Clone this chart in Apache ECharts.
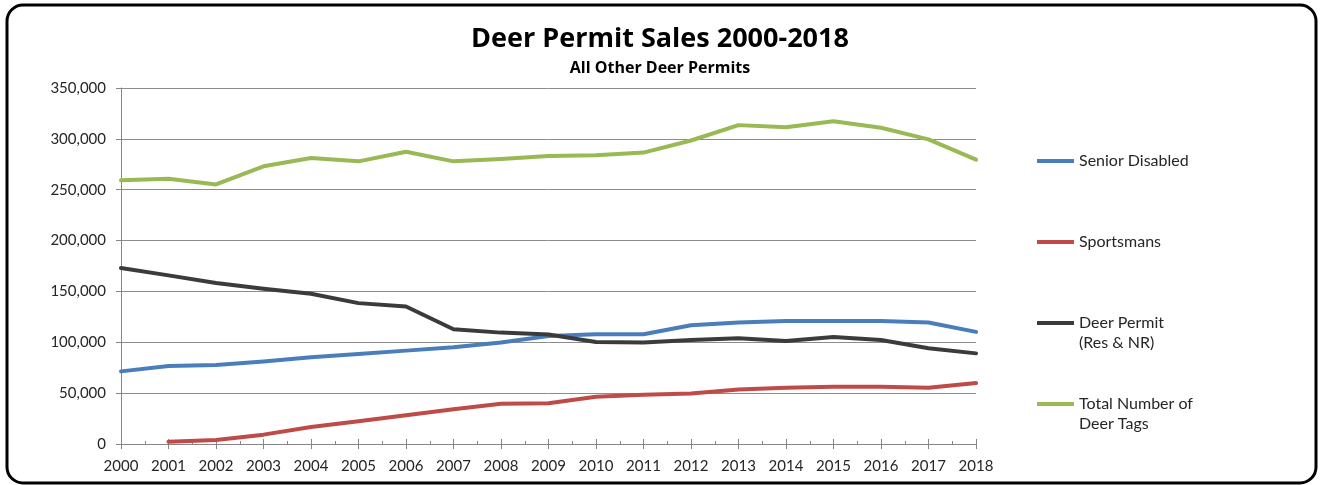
<!DOCTYPE html>
<html>
<head>
<meta charset="utf-8">
<script src="https://cdn.jsdelivr.net/npm/echarts@6/dist/echarts.min.js"></script>
<style>
  html, body { margin: 0; padding: 0; background: #fff; }
  #chart { width: 1320px; height: 485px; }
</style>
</head>
<body>
<div id="chart"></div>
<script>
// Permit sales per year
const years = [2000, 2001, 2002, 2003, 2004, 2005, 2006, 2007, 2008, 2009,
               2010, 2011, 2012, 2013, 2014, 2015, 2016, 2017, 2018];
const seniorDisabled = [71400, 76600, 77600, 81200, 85200, 88500, 91800, 95100, 99700, 106200,
                        107900, 107900, 116800, 119400, 121000, 121000, 121000, 119400, 110200];
const sportsmans = [null, 2300, 3900, 9200, 16800, 22400, 28300, 34200, 39500, 40100,
                    46400, 48400, 49700, 53600, 55300, 56200, 56200, 55300, 59900];
const deerPermit = [173000, 165800, 158200, 152600, 147700, 138500, 135200, 112800, 109500, 107600,
                    100300, 99700, 102300, 103900, 101300, 105300, 102300, 94100, 89100];
const totalTags = [259200, 260800, 255200, 273000, 281200, 277900, 287400, 277900, 280200, 283200,
                   283900, 286500, 298400, 313500, 311500, 317400, 310900, 299500, 279600];
const yTicks = [0, 50000, 100000, 150000, 200000, 250000, 300000, 350000];

const FONT = 'Lato';
const LEGEND_LH = 20;
const pairs = arr => years.map((y, i) => [y, arr[i]]);

// legend lines: icon sits beside the first line of each label
const seriesDefs = [
  { name: 'Senior Disabled', data: seniorDisabled, color: '#4A7EBB', lines: ['Senior Disabled'], y: 161 },
  { name: 'Sportsmans', data: sportsmans, color: '#BE4B48', lines: ['Sportsmans'], y: 242 },
  { name: 'Deer Permit (Res & NR)', data: deerPermit, color: '#3B3B3B', lines: ['Deer Permit', '(Res & NR)'], y: 323 },
  { name: 'Total Number of Deer Tags', data: totalTags, color: '#98B954', lines: ['Total Number of', 'Deer Tags'], y: 404 }
];

const chart = echarts.init(document.getElementById('chart'), null, { renderer: 'canvas' });

const legends = seriesDefs.map(s => {
  const multi = s.lines.length > 1;
  // a blank leading line keeps the first text line centred on the icon
  const text = multi ? ' \n' + s.lines.join('\n') : s.lines[0];
  const nLines = multi ? 3 : 1;
  return {
    left: 1037,
    top: s.y - (nLines * LEGEND_LH) / 2,
    padding: 0,
    orient: 'vertical',
    icon: 'rect',
    itemWidth: 37,
    itemHeight: 4,
    selectedMode: false,
    data: [s.name],
    formatter: () => text,
    textStyle: { fontFamily: FONT, fontSize: 16, color: '#262626', lineHeight: LEGEND_LH }
  };
});

const tickColor = '#868686';

const option = {
  animation: false,
  title: [
    { text: 'Deer Permit Sales 2000-2018', left: 'center', top: 21,
      textStyle: { fontFamily: 'Open Sans', fontWeight: 'bold', fontSize: 27, color: '#000' } },
    { text: 'All Other Deer Permits', left: 'center', top: 55,
      textStyle: { fontFamily: 'Open Sans', fontWeight: 'bold', fontSize: 16, color: '#000' } }
  ],
  legend: legends,
  grid: { left: 121, right: 344, top: 88, bottom: 41, containLabel: false },
  xAxis: [
    {
      type: 'value', min: 2000, max: 2018, interval: 1,
      axisLine: { show: true, onZero: false, lineStyle: { color: tickColor, width: 1 } },
      axisTick: { show: true, length: 5, lineStyle: { color: tickColor } },
      axisLabel: { fontFamily: FONT, fontSize: 15, color: '#262626', margin: 15,
                   formatter: v => String(v) },
      splitLine: { show: false }
    },
    {
      // inner half of the year ticks plus half-year minor ticks
      type: 'value', min: 2000, max: 2018, interval: 1, position: 'bottom',
      axisLine: { show: false },
      axisTick: { show: true, inside: true, length: 5, lineStyle: { color: tickColor } },
      minorTick: { show: true, splitNumber: 2, length: 3, lineStyle: { color: tickColor } },
      axisLabel: { show: false },
      splitLine: { show: false }
    }
  ],
  yAxis: {
    type: 'value', min: 0, max: 350000, interval: 50000,
    axisLine: { show: true, lineStyle: { color: tickColor, width: 1 } },
    axisTick: { show: true, length: 5, lineStyle: { color: tickColor } },
    axisLabel: { fontFamily: FONT, fontSize: 15, color: '#262626', margin: 15,
                 formatter: v => yTicks.indexOf(v) >= 0 ? v.toLocaleString('en-US') : '' },
    splitLine: { show: true, lineStyle: { color: '#8C8C8C', width: 1 } }
  },
  series: seriesDefs.map(s => ({
    name: s.name,
    type: 'line',
    xAxisIndex: 0,
    data: pairs(s.data),
    showSymbol: false,
    symbol: 'none',
    connectNulls: false,
    lineStyle: { color: s.color, width: 4, join: 'round', cap: 'round' },
    itemStyle: { color: s.color },
    emphasis: { disabled: true }
  })),
  graphic: [
    {
      type: 'rect', silent: true, z: 100,
      shape: { x: 7, y: 5, width: 1309, height: 478, r: 16 },
      style: { fill: 'none', stroke: '#000', lineWidth: 3 }
    }
  ]
};

chart.setOption(option);
</script>
</body>
</html>
